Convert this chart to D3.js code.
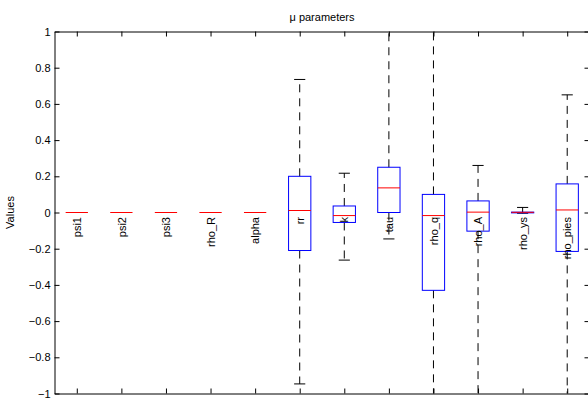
<!DOCTYPE html>
<html>
<head>
<meta charset="utf-8">
<script src="https://cdn.jsdelivr.net/npm/d3@7"></script>
<style>
  body { margin: 0; background: #fff; }
  text { font-family: "Liberation Sans", Arial, sans-serif; }
</style>
</head>
<body>
<div id="chart"></div>
<script>
// boxplot stats per parameter (values beyond +-1 run off the axes)
const names = ['psi1', 'psi2', 'psi3', 'rho_R', 'alpha', 'rr', 'k', 'tau', 'rho_q', 'rho_A', 'rho_ys', 'rho_pies'];
const lowWhisker = [0, 0, 0, 0, 0, -0.947, -0.263, -0.146, -1.5, -1.5, -0.004, -1.5];
const q1 = [0, 0, 0, 0, 0, -0.21, -0.055, 0.0, -0.43, -0.103, -0.002, -0.215];
const medians = [0, 0, 0, 0, 0, 0.011, -0.017, 0.136, -0.017, 0.002, 0.001, 0.014];
const q3 = [0, 0, 0, 0, 0, 0.20, 0.036, 0.25, 0.10, 0.064, 0.002, 0.158];
const highWhisker = [0, 0, 0, 0, 0, 0.735, 0.217, 1.5, 1.5, 0.26, 0.028, 0.65];
const yTicks = [-1, -0.8, -0.6, -0.4, -0.2, 0, 0.2, 0.4, 0.6, 0.8, 1];
const title = '\u03bc parameters';
const yLabel = 'Values';

(function(){
const width = 588, height = 402;
const mLeft = 54.5, mRight = 589.5, mTop = 31.5, mBottom = 393.5;
const fs = 11;

const svg = d3.select('#chart').append('svg')
  .attr('width', width).attr('height', height);

const x = d3.scaleLinear().domain([0.5, names.length + 0.5]).range([mLeft, mRight]);
const y = d3.scaleLinear().domain([-1, 1]).range([mBottom, mTop]);
const pos = names.map((d, i) => i + 1);
const boxHalf = (x(1.25) - x(1));
const capHalf = (x(1.125) - x(1));

svg.append('clipPath').attr('id', 'plot')
  .append('rect').attr('x', mLeft).attr('y', mTop).attr('width', mRight - mLeft).attr('height', mBottom - mTop);

const g = svg.append('g').attr('clip-path', 'url(#plot)');

const stats = names.map((n, i) => ({ n, p: pos[i], lo: lowWhisker[i], q1: q1[i], med: medians[i], q3: q3[i], hi: highWhisker[i] }));

// whiskers
g.selectAll('.whUp').data(stats).enter().append('line')
  .attr('x1', d => x(d.p)).attr('x2', d => x(d.p))
  .attr('y1', d => y(d.q3)).attr('y2', d => y(d.hi))
  .attr('stroke', '#000').attr('stroke-dasharray', '8,6');
g.selectAll('.whLo').data(stats).enter().append('line')
  .attr('x1', d => x(d.p)).attr('x2', d => x(d.p))
  .attr('y1', d => y(d.q1)).attr('y2', d => y(d.lo))
  .attr('stroke', '#000').attr('stroke-dasharray', '8,6');

// caps
['lo', 'hi'].forEach(k => {
  g.selectAll('.cap' + k).data(stats).enter().append('line')
    .attr('x1', d => x(d.p) - capHalf).attr('x2', d => x(d.p) + capHalf)
    .attr('y1', d => y(d[k])).attr('y2', d => y(d[k]))
    .attr('stroke', '#000');
});

// boxes
g.selectAll('.box').data(stats).enter().append('rect')
  .attr('x', d => x(d.p) - boxHalf).attr('width', boxHalf * 2)
  .attr('y', d => y(d.q3)).attr('height', d => y(d.q1) - y(d.q3))
  .attr('fill', 'none').attr('stroke', '#0000ff');

// medians
g.selectAll('.med').data(stats).enter().append('line')
  .attr('x1', d => x(d.p) - boxHalf).attr('x2', d => x(d.p) + boxHalf)
  .attr('y1', d => y(d.med)).attr('y2', d => y(d.med))
  .attr('stroke', '#ff0000');

// inline labels
svg.append('g').selectAll('text').data(stats).enter().append('text')
  .attr('transform', d => `translate(${x(d.p)},${y(0) + 4.5}) rotate(-90)`)
  .attr('text-anchor', 'end')
  .attr('dy', '0.38em')
  .attr('font-size', fs)
  .attr('fill', '#000')
  .text(d => d.n);

// axes (box frame with inward ticks)
function styleAxis(sel) {
  sel.selectAll('path, line').attr('stroke', '#000');
  sel.selectAll('text').attr('font-size', fs).attr('fill', '#000')
    .style('font-family', '"Liberation Sans", Arial, sans-serif');
}

svg.append('g').attr('transform', `translate(${mLeft},0)`)
  .call(d3.axisLeft(y).tickValues(yTicks).tickSizeInner(-5).tickSizeOuter(0).tickPadding(4).tickFormat(d3.format('')))
  .call(styleAxis);
svg.append('g').attr('transform', `translate(${mRight},0)`)
  .call(d3.axisRight(y).tickValues(yTicks).tickSizeInner(-5).tickSizeOuter(0).tickFormat(''))
  .call(styleAxis);
svg.append('g').attr('transform', `translate(0,${mTop})`)
  .call(d3.axisTop(x).tickValues(pos).tickSizeInner(-5).tickSizeOuter(0).tickFormat(''))
  .call(styleAxis);
svg.append('g').attr('transform', `translate(0,${mBottom})`)
  .call(d3.axisBottom(x).tickValues(pos).tickSizeInner(-5).tickSizeOuter(0).tickFormat(''))
  .call(styleAxis);

svg.append('text')
  .attr('x', (mLeft + mRight) / 2).attr('y', 21)
  .attr('text-anchor', 'middle').attr('font-size', fs)
  .text(title);

svg.append('text')
  .attr('transform', `translate(14,${(mTop + mBottom) / 2}) rotate(-90)`)
  .attr('text-anchor', 'middle').attr('font-size', fs)
  .text(yLabel);
})();
</script>
</body>
</html>
